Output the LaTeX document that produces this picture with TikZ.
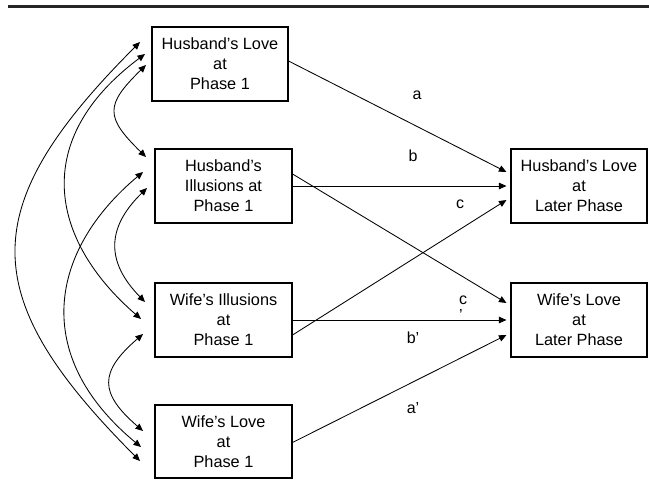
\documentclass[tikz,border=0pt]{standalone}
\usepackage{fontspec}
\setmainfont{Liberation Sans}
\usetikzlibrary{arrows.meta}
\begin{document}
\begin{tikzpicture}[x=1pt,y=-1pt,
  varbox/.style={draw,line width=1.1pt,minimum width=136pt,minimum height=74pt,inner sep=0pt,align=center,font=\fontsize{16.3}{20}\selectfont},
  lbl/.style={inner sep=0pt,font=\fontsize{16}{20}\selectfont},
  conn/.style={line width=0.85pt,-{Triangle[length=7.5pt,width=6.5pt]}},
  corr/.style={line width=0.85pt,{Triangle[length=7.5pt,width=6.5pt]}-{Triangle[length=7.5pt,width=6.5pt]}}]
\useasboundingbox (0,0) rectangle (649,481);
\fill[black!85] (8,5) rectangle (649,8);
% boxes
\node[varbox] (hl1) at (220,64) {Husband’s Love\\at\\Phase 1};
\node[varbox,minimum width=137pt] (hi1) at (223.5,186) {Husband’s\\Illusions at\\Phase 1};
\node[varbox,minimum width=137pt] (wi1) at (223.5,320) {Wife’s Illusions\\at\\Phase 1};
\node[varbox,minimum width=137pt,minimum height=73pt] (wl1) at (223.5,441.5) {Wife’s Love\\at\\Phase 1};
\node[varbox] (hlL) at (579,186) {Husband’s Love\\at\\Later Phase};
\node[varbox] (wlL) at (579,320) {Wife’s Love\\at\\Later Phase};
% end points of the right-hand paths
\coordinate (hlLa) at ([shift={(-4,-14)}]hlL.west);
\coordinate (hlLb) at ([shift={(-4,0)}]hlL.west);
\coordinate (hlLc) at ([shift={(-4,14)}]hlL.west);
\coordinate (wlLc) at ([shift={(-4,-17)}]wlL.west);
\coordinate (wlLb) at ([shift={(-4,0)}]wlL.west);
\coordinate (wlLa) at ([shift={(-4,15)}]wlL.west);
\draw[conn] ([yshift=3]hl1.east) -- (hlLa);
\draw[conn] (hi1.east) -- (hlLb);
\draw[conn] ([yshift=12]hi1.east) -- (wlLc);
\draw[conn] ([yshift=-15]wi1.east) -- (hlLc);
\draw[conn] (wi1.east) -- (wlLb);
\draw[conn] ([yshift=-1]wl1.east) -- (wlLa);
% path labels
\node[lbl] (la) at (417,95) {a};
\node[lbl] (lb) at (413,156) {b};
\node[lbl] (lc) at (460,204) {c};
\node[lbl] (lc2) at (463,300) {c};
\node[lbl] (lc2p) at (461,314.5) {’};
\node[lbl] (lb2) at (413,338) {b’};
\node[lbl] (la2) at (413,408) {a’};
% left-hand correlation end points
\coordinate (h1t) at (140,42);
\coordinate (h1m) at (145,54);
\coordinate (h1b) at (146,65);
\coordinate (i1t) at (146,157);
\coordinate (i1m) at (143,172);
\coordinate (i1b) at (147,188);
\coordinate (w1t) at (145,302);
\coordinate (w1m) at (141,319);
\coordinate (w1b) at (143,334);
\coordinate (l1t) at (143,431);
\coordinate (l1m) at (141,447);
\coordinate (l1b) at (140,461);
\draw[corr] (h1t) .. controls (-25,207) and (-25,296) .. (l1b);
\draw[corr] (h1m) .. controls (30,140) and (50,240) .. (w1m);
\draw[corr] (i1m) .. controls (50,250) and (30,355) .. (l1m);
\draw[corr] (h1b) .. controls (105,105) and (105,117) .. (i1t);
\draw[corr] (i1b) .. controls (106,228) and (106,262) .. (w1t);
\draw[corr] (w1b) .. controls (99,372) and (99,393) .. (l1t);
\end{tikzpicture}
\end{document}
